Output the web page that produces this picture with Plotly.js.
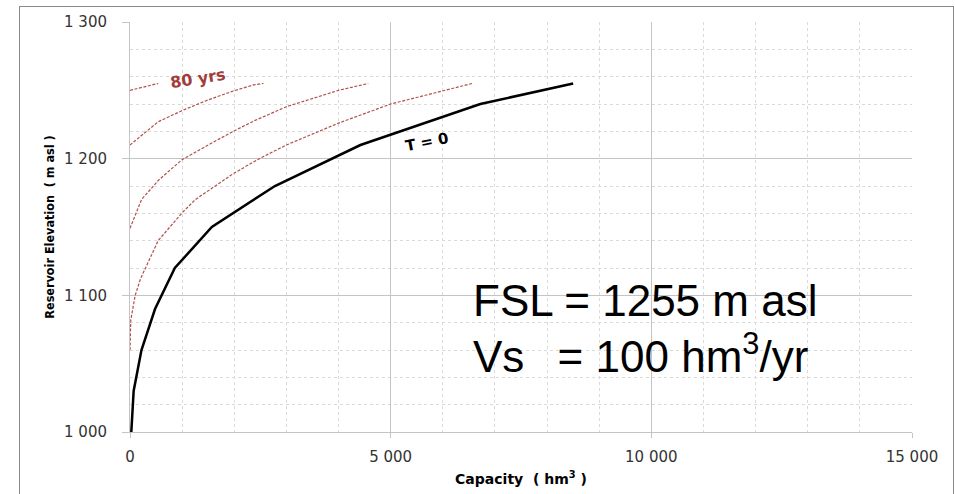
<!DOCTYPE html>
<html>
<head>
<meta charset="utf-8">
<script src="https://cdn.plot.ly/plotly-3.0.1.min.js"></script>
<style>
html, body { margin:0; padding:0; overflow:hidden; background:#fff; }
#chart { width:955px; height:494px; }
#frame { position:absolute; left:19px; top:6px; width:935px; height:600px; border:1px solid #8a8a8a; pointer-events:none; box-sizing:border-box; }
</style>
</head>
<body>
<div id="chart"></div>
<div id="frame"></div>
<script>
// Capacity (hm3) vs reservoir elevation (m asl)
const capT0  = [25, 70, 220, 480, 860, 1570, 2780, 4420, 6720, 8500];
const elevT0 = [1000, 1030, 1060, 1090, 1120, 1150, 1180, 1210, 1240, 1255];

const capT20  = [0, 15, 100, 200, 540, 990, 1250, 1980, 2480, 3000, 4000, 5000, 6560];
const elevT20 = [1060, 1082, 1100, 1112, 1140, 1160, 1170, 1189, 1200, 1210, 1226, 1240, 1255];

const capT40  = [0, 220, 540, 990, 1500, 1980, 2400, 2780, 3000, 4000, 4570];
const elevT40 = [1149, 1170, 1184, 1199, 1210, 1220, 1228, 1234, 1238, 1250, 1255];

const capT60  = [0, 540, 990, 1500, 1980, 2370, 2560];
const elevT60 = [1210, 1227, 1235, 1243, 1249.5, 1254, 1255];

const capT80  = [0, 540];
const elevT80 = [1250, 1255];

const xTickVals = [0, 5000, 10000, 15000];
const xTickText = ['0', '5 000', '10 000', '15 000'];
const yTickVals = [1000, 1100, 1200, 1300];
const yTickText = ['1 000', '1 100', '1 200', '1 300'];

const red = '#b0504a';
const redLine = {color: red, width: 1.2, dash: '3px,1.6px'};

const traces = [
  {x: capT20, y: elevT20, name: 'T = 20 yrs', mode: 'lines', line: redLine},
  {x: capT40, y: elevT40, name: 'T = 40 yrs', mode: 'lines', line: redLine},
  {x: capT60, y: elevT60, name: 'T = 60 yrs', mode: 'lines', line: redLine},
  {x: capT80, y: elevT80, name: 'T = 80 yrs', mode: 'lines', line: redLine},
  {x: capT0,  y: elevT0,  name: 'T = 0', mode: 'lines', line: {color: '#000', width: 2.5}}
];

const tickFont = {family: 'DejaVu Sans', size: 15, color: '#333333'};

const layout = {
  width: 955, height: 494,
  margin: {l: 130, r: 43, t: 22, b: 62},
  paper_bgcolor: '#fff', plot_bgcolor: '#fff',
  showlegend: false,
  xaxis: {
    range: [0, 15000], tickmode: 'array', tickvals: xTickVals, ticktext: xTickText,
    showgrid: true, gridcolor: '#c4c4c4', gridwidth: 1,
    minor: {tickmode: 'linear', tick0: 0, dtick: 1000, showgrid: true, gridcolor: '#dadada', griddash: 'dot', gridwidth: 1},
    zeroline: false, showline: true, linecolor: '#c4c4c4', linewidth: 1,
    ticks: 'outside', ticklen: 5, tickcolor: '#c4c4c4',
    tickfont: tickFont, ticklabelstandoff: 6,
    title: {text: '<b>Capacity  ( hm<sup>3</sup> )</b>', font: {family: 'DejaVu Sans', size: 14, color: '#000'}, standoff: 9}
  },
  yaxis: {
    range: [1000, 1300], tickmode: 'array', tickvals: yTickVals, ticktext: yTickText,
    showgrid: true, gridcolor: '#c4c4c4', gridwidth: 1,
    minor: {tickmode: 'linear', tick0: 1000, dtick: 20, showgrid: true, gridcolor: '#dadada', griddash: 'dot', gridwidth: 1},
    zeroline: false, showline: true, linecolor: '#c4c4c4', linewidth: 1,
    ticks: 'outside', ticklen: 7, tickcolor: '#c4c4c4',
    tickfont: tickFont, ticklabelstandoff: 12,
    title: {text: '<b>Reservoir Elevation  ( m asl )</b>', font: {family: 'DejaVu Sans Condensed', size: 12.5, color: '#000'}, standoff: 6}
  },
  annotations: [
    {xref: 'x', yref: 'y', x: 1300, y: 1258.5, text: '<b>80 yrs</b>', showarrow: false, textangle: -9,
     font: {family: 'DejaVu Sans', size: 16, color: '#a23c3a'}},
    {xref: 'x', yref: 'y', x: 5700, y: 1212.5, text: '<b>T = 0</b>', showarrow: false, textangle: -11,
     font: {family: 'DejaVu Sans', size: 15, color: '#000'}},
    {xref: 'paper', yref: 'paper', x: (471 - 130) / 782, y: (432 - 300) / 410, xanchor: 'left', yanchor: 'middle',
     text: 'FSL = 1255 m asl', showarrow: false, font: {family: 'Liberation Sans', size: 44, color: '#000'}},
    {xref: 'paper', yref: 'paper', x: (471 - 130) / 782, y: (432 - 353) / 410, xanchor: 'left', yanchor: 'middle',
     text: 'Vs\u00A0\u00A0\u2009= 100 hm<sup>3</sup>/yr', showarrow: false, font: {family: 'Liberation Sans', size: 44, color: '#000'}}
  ]
};

Plotly.newPlot('chart', traces, layout, {staticPlot: true, displayModeBar: false});
</script>
</body>
</html>
